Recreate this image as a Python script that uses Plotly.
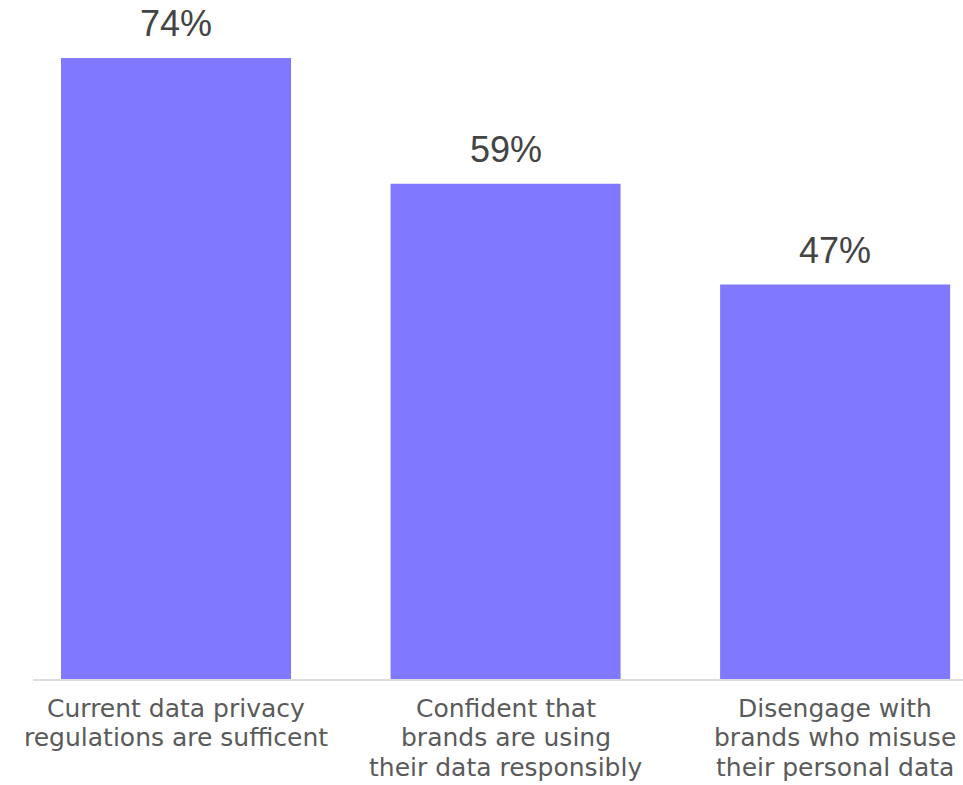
import plotly.graph_objects as go

categories = [
    "Current data privacy regulations are sufficent",
    "Confident that brands are using their data responsibly",
    "Disengage with brands who misuse their personal data",
]
category_lines = [
    ["Current data privacy", "regulations are sufficent"],
    ["Confident that", "brands are using", "their data responsibly"],
    ["Disengage with", "brands who misuse", "their personal data"],
]
values = [74, 59, 47]
value_labels = ["74%", "59%", "47%"]

BAR_COLOR = "#8078FF"
FONT = "Liberation Sans, Arial, sans-serif"
TICK_FONT = "DejaVu Sans, sans-serif"

fig = go.Figure()
fig.add_trace(go.Bar(
    x=categories,
    y=values,
    marker=dict(color=BAR_COLOR, line=dict(width=0)),
    width=0.698,
    hoverinfo="skip",
))

for c, v, t in zip(categories, values, value_labels):
    fig.add_annotation(
        x=c, y=v, text=t, showarrow=False,
        yanchor="bottom", yshift=12,
        font=dict(family=FONT, size=36, color="#444444"),
    )

# category labels, one text per line for tight line spacing
for c, lines in zip(categories, category_lines):
    for i, ln in enumerate(lines):
        fig.add_annotation(
            x=c, y=0, text=ln, showarrow=False,
            yanchor="middle", yshift=-(29 + 29.5 * i),
            font=dict(family=TICK_FONT, size=25, color="#5a5a5a"),
        )

fig.update_layout(
    width=963, height=785,
    margin=dict(l=33, r=0, t=0, b=106, autoexpand=False),
    paper_bgcolor="white", plot_bgcolor="white",
    showlegend=False,
    bargap=0.3,
    xaxis=dict(
        type="category",
        range=[-0.434, 2.388],
        automargin=False,
        showline=True, linecolor="#dddddd", linewidth=1.5,
        ticks="", showgrid=False, zeroline=False,
        showticklabels=False,
    ),
    yaxis=dict(
        range=[0, 80.9],
        automargin=False,
        visible=False, showgrid=False, zeroline=False,
    ),
)

fig.write_html("out.html")
